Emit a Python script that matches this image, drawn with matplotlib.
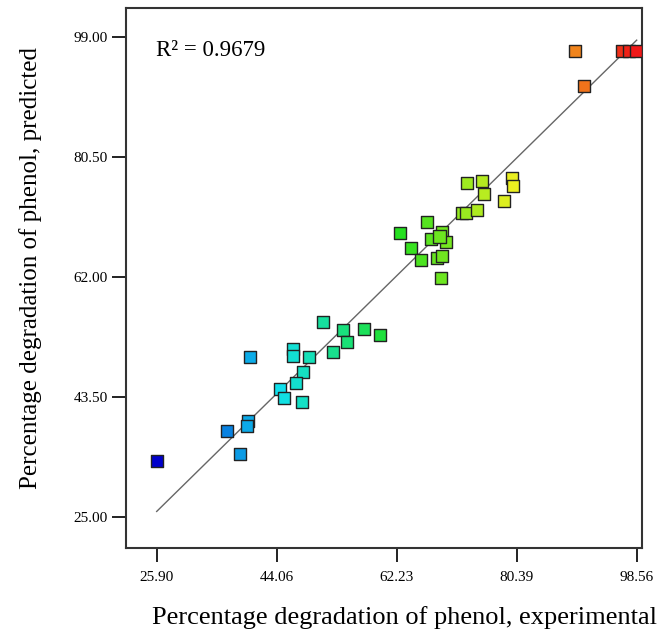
import numpy as np
import matplotlib
matplotlib.use("Agg")
import matplotlib.pyplot as plt
from matplotlib.colors import LinearSegmentedColormap, Normalize

experimental = [96.38, 97.40, 98.41, 89.22, 90.63,
                72.92, 75.10, 75.45, 79.64, 79.79, 78.47, 72.16, 72.72, 74.43, 66.86,
                62.68, 64.35, 67.38, 69.04, 69.69, 65.86, 68.29, 69.04, 68.89, 68.71,
                51.12, 54.15, 57.28, 59.70, 54.66, 52.63, 46.49, 46.58, 49.00, 48.09,
                46.99, 44.56, 45.17, 47.94,
                40.02, 39.77, 39.61, 36.50, 38.51, 25.90]
predicted = [96.89, 96.89, 96.89, 96.89, 91.54,
             76.50, 76.90, 74.85, 77.27, 76.08, 73.72, 71.96, 71.87, 72.38, 70.57,
             68.83, 66.57, 67.91, 68.94, 67.40, 64.67, 64.93, 65.33, 61.85, 68.29,
             55.16, 53.88, 53.99, 53.11, 52.07, 50.44, 50.90, 49.92, 49.76, 47.45,
             45.66, 44.73, 43.35, 42.73,
             49.67, 39.89, 39.08, 38.35, 34.76, 33.73]

xticks = [25.90, 44.06, 62.23, 80.39, 98.56]
yticks = [25.00, 43.50, 62.00, 80.50, 99.00]
r2 = 0.9679

plt.rcParams['font.family'] = ['Liberation Serif', 'DejaVu Serif']

cmap = LinearSegmentedColormap.from_list(
    'de', ['#0000cc', '#10e0f0', '#20e020', '#f0f020', '#f01818'])
norm = Normalize(min(experimental), max(experimental))

fig = plt.figure(figsize=(6.69, 6.34), dpi=100)
ax = fig.add_axes([0.1883, 0.1352, 0.7709, 0.8517])

# 1:1 line
ax.plot([xticks[0], xticks[-1]], [xticks[0], xticks[-1]], color='#666666', lw=1.0, zorder=2)

ax.scatter(experimental, predicted, s=78, marker='s', c=experimental, cmap=cmap, norm=norm,
           edgecolors='#222222', linewidths=1.0, zorder=3)

ax.set_xlim(21.25, 99.32)
ax.set_ylim(20.22, 103.47)
ax.set_xticks(xticks)
ax.set_xticklabels(['%.2f' % v for v in xticks])
ax.set_yticks(yticks)
ax.set_yticklabels(['%.2f' % v for v in yticks])

ax.tick_params(axis='x', length=10, width=1.4, pad=6, labelsize=11, color='#222222')
ax.tick_params(axis='y', length=10, width=1.4, pad=3, labelsize=11, color='#222222')
for sp in ax.spines.values():
    sp.set_linewidth(1.5)
    sp.set_color('#333333')

ax.set_xlabel('Percentage degradation of phenol, experimental', fontsize=19)
ax.set_ylabel('Percentage degradation of phenol, predicted', fontsize=18)
ax.xaxis.set_label_coords(0.541, -0.107)
ax.yaxis.set_label_coords(-0.162, 0.519)

ax.text(0.058, 0.942, 'R² = %.4f' % r2, transform=ax.transAxes, fontsize=16.5,
        va='top', ha='left')

fig.savefig('out.png', dpi=100)
